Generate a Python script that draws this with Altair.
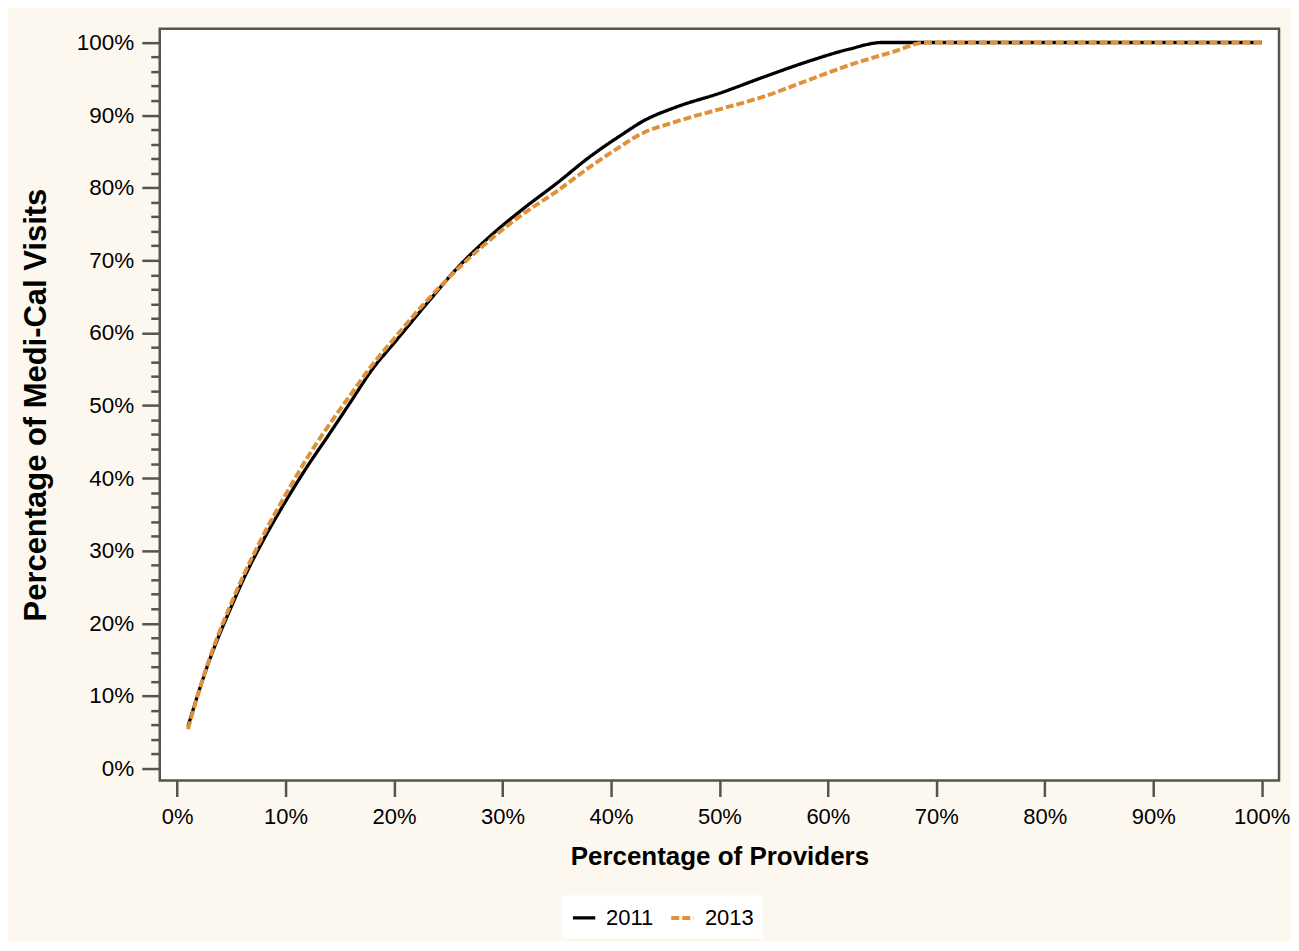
import altair as alt
import pandas as pd

# ---- data ----
series_names = ["2011", "2013"]

x_2011 = [1, 2, 3, 4, 5, 6, 8, 10, 12, 14, 16, 18, 20, 23, 26, 29, 32, 35, 38, 41, 43, 46, 50, 54, 58, 62, 65, 70, 80, 90, 100]
y_2011 = [5.8, 10.6, 15.0, 18.8, 22.3, 25.7, 31.6, 36.8, 41.6, 46.0, 50.5, 55.0, 58.6, 64.0, 69.2, 73.5, 77.2, 80.6, 84.2, 87.3, 89.2, 91.1, 93.0, 95.2, 97.3, 99.1, 100, 100, 100, 100, 100]

x_2013 = [1, 2, 3, 4, 5, 6, 8, 10, 12, 14, 16, 18, 20, 23, 26, 29, 32, 35, 38, 41, 42.5, 46, 50, 54, 58, 62, 66, 69, 80, 90, 100]
y_2013 = [5.4, 10.6, 15.2, 19.2, 22.8, 26.2, 32.3, 37.7, 42.8, 47.3, 51.5, 55.6, 59.2, 64.4, 69.0, 73.0, 76.5, 79.5, 82.8, 85.8, 87.2, 89.1, 90.8, 92.5, 94.7, 96.9, 98.7, 100, 100, 100, 100]

x_ticks = list(range(0, 101, 10))
y_ticks = list(range(0, 101, 2))

rows = []
for xv, yv in zip(x_2011, y_2011):
    rows.append({"x": xv, "y": yv, "series": series_names[0]})
for xv, yv in zip(x_2013, y_2013):
    rows.append({"x": xv, "y": yv, "series": series_names[1]})
df = pd.DataFrame(rows)

FONT = "Liberation Sans"
AXIS_GRAY = "#57544B"
ORANGE = "#E0913A"
BG = "#FDF8EF"

x_enc = alt.X(
    "x:Q",
    scale=alt.Scale(domain=[-1.6, 101.6], nice=False, zero=False),
    axis=alt.Axis(
        values=x_ticks,
        labelExpr="datum.value + '%'",
        title="Percentage of Providers",
        tickSize=16, tickWidth=2.5, tickColor=AXIS_GRAY,
        domain=False, grid=False,
        labelFont=FONT, labelFontSize=22, labelColor="black", labelPadding=10,
        titleFont=FONT, titleFontSize=26, titleFontWeight="bold", titleColor="black",
        titlePadding=16,
    ),
)

y_enc = alt.Y(
    "y:Q",
    scale=alt.Scale(domain=[-1.65, 101.9], nice=False, zero=False),
    axis=alt.Axis(
        values=y_ticks,
        labelExpr="datum.value % 10 === 0 ? datum.value + '%' : ''",
        title="Percentage of Medi-Cal Visits",
        tickSize={"condition": {"test": "datum.value % 10 === 0", "value": 18}, "value": 9},
        tickWidth=2.5, tickColor=AXIS_GRAY,
        domain=False, grid=False,
        labelFont=FONT, labelFontSize=22.5, labelColor="black", labelPadding=8,
        titleFont=FONT, titleFontSize=31, titleFontWeight="bold", titleColor="black",
        titlePadding=24,
    ),
)

chart = (
    alt.Chart(df)
    .mark_line(interpolate="monotone")
    .encode(
        x=x_enc,
        y=y_enc,
        color=alt.Color(
            "series:N",
            scale=alt.Scale(domain=series_names, range=["black", ORANGE]),
            legend=alt.Legend(title=None),
        ),
        strokeDash=alt.StrokeDash(
            "series:N",
            scale=alt.Scale(domain=series_names, range=[[1, 0], [8, 3]]),
            legend=alt.Legend(title=None),
        ),
        strokeWidth=alt.StrokeWidth(
            "series:N",
            scale=alt.Scale(domain=series_names, range=[3.3, 3.9]),
            legend=None,
        ),
        order=alt.Order("x:Q"),
    )
    .properties(
        width=1121,
        height=753,
        autosize=alt.AutoSizeParams(type="none"),
        padding={"left": 152, "top": 20, "right": 12, "bottom": 160},
        background=BG,
    )
    .configure_view(fill="white", stroke=AXIS_GRAY, strokeWidth=2.5)
    .configure_legend(
        orient="none",
        legendX=403,
        legendY=868,
        direction="horizontal",
        fillColor="white",
        padding=9,
        symbolType="stroke",
        symbolSize=500,
        symbolStrokeWidth=3.6,
        labelFont=FONT,
        labelFontSize=22,
        labelColor="black",
        labelOffset=9,
        columnPadding=9,
    )
)

chart.save("out.html", embed_options={"renderer": "svg", "actions": False})
